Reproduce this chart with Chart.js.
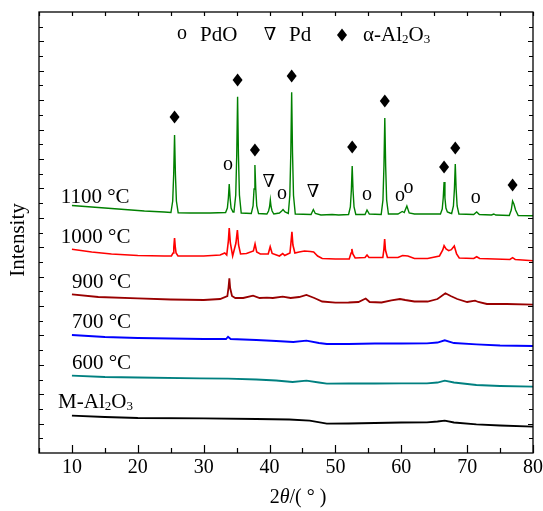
<!DOCTYPE html>
<html>
<head>
<meta charset="utf-8">
<script src="https://cdn.jsdelivr.net/npm/chart.js@4/dist/chart.umd.min.js"></script>
<style>
  html, body { margin: 0; padding: 0; background: #fff; }
  canvas { display: block; }
</style>
</head>
<body>
<canvas id="xrd" width="543" height="511" style="width:543px;height:511px"></canvas>
<script>
// XRD patterns: 2θ (degrees) against intensity (a.u., stacked traces)
const xTickValues = [10, 20, 30, 40, 50, 60, 70, 80];
const xTickLabels = ['10', '20', '30', '40', '50', '60', '70', '80'];

const seriesNames = ['1100 °C', '1000 °C', '900 °C', '700 °C', '600 °C', 'M-Al2O3'];

const twoTheta1100 = [10,12,15,18,21,24,25.03,25.30,25.45,25.58,25.71,25.86,26.13,28,31,33.33,33.6,33.75,33.88,34.01,34.16,34.45,34.6,34.87,35.02,35.15,35.28,35.43,35.7,37.23,37.5,37.65,37.78,37.91,38.06,38.33,39.6,39.85,40.0,40.12,40.24,40.39,40.65,41.5,41.85,42.05,42.35,42.85,43.08,43.23,43.36,43.49,43.64,43.91,46.3,46.65,46.95,47.8,49.5,50.5,52.0,52.27,52.42,52.55,52.68,52.83,53.1,54.5,54.8,55.15,56.95,57.22,57.37,57.5,57.63,57.78,58.05,59.5,60.15,60.45,60.85,61.2,62,64,65.95,66.22,66.37,66.5,66.63,66.78,67.0,67.4,67.65,67.92,68.07,68.2,68.33,68.48,68.75,71.0,71.45,71.85,73.7,74.05,74.35,76.4,76.7,76.9,77.1,77.35,77.75,80];
const counts1100 = [247.5,246.5,245,243.5,242,241,240.5,252,279,318,279,252,240.3,240,240,240.5,245,255,269,255,245,241,241,258,298,356.3,298,258,240,239.5,247,264,288,264,247,239.5,239,242,246,253,246,242,239,240,242,243.5,241,239.5,257.5,300,360.7,300,257.5,239,238.5,243.5,239.5,238,238.5,238,238.5,246,262.5,287,262.5,246,238.5,238.5,243,239,238.5,253,287,335,287,253,239,239,241.5,240.5,247,240,239,239,239,244,255,271,255,245,241,240,239.5,247,264,289,264,247,239,238.5,241,238.5,238,239,238,237.5,243,252,249,243,237.5,237.3];

const twoTheta1000 = [10,13,16,20,24,25.1,25.35,25.47,25.58,25.69,25.81,26.1,28,30,32.5,33.2,33.5,33.75,33.88,34.05,34.4,34.9,35.12,35.3,35.6,36.5,37.55,37.8,38.05,38.6,39.8,40.1,40.4,41.5,42.0,42.3,43.1,43.25,43.4,43.55,43.85,44.5,45.3,46.2,46.7,47.3,48,50,52.1,52.38,52.5,52.65,53.0,54.5,54.8,55.1,57.2,57.35,57.48,57.6,57.9,59.5,60.2,61.0,62,64,65.8,66.3,66.5,66.8,67.2,67.6,68.05,68.4,68.8,71.0,71.45,71.9,76.5,76.9,77.3,80];
const counts1000 = [203.7,201,199,197.5,197,197,200,206,215,206,200,197,197,197,198,200,198,212,225,210,197,210,223,208,199,199.5,202,209,201,199,199,206.3,199.5,197,199.5,197.5,200,210,221.3,208,200,201,202,201.5,201,197,194.5,194,194,200,204,199,195,195.5,198,195.5,195.5,203,214,203,195.5,195.5,197.5,197,194.5,194.5,197,203,207.3,204,202.3,203.3,207,199,195,194.5,196.3,194.5,193.5,195.3,193.5,192.3];

const twoTheta900 = [10,14,20,25,30,32.5,33.6,33.78,33.9,34.02,34.3,34.8,36,37.5,38.5,39.6,40.5,42.0,43.2,44.5,45.6,46.8,48,50,52,53.5,54.6,55.2,57,58.5,59.8,60.6,62,64,65.5,66.7,67.5,68.5,70,71.2,71.7,73,76,80];
const counts900 = [158.7,156,154.7,153.5,153,154,157,166,174.7,165,157,155,155,157.3,155,155.3,155,156.3,155,156,158,155,151.5,150.3,150.5,151,154.5,151,150.5,152.7,154,153,151.5,151.5,154,159.7,157,154,151,152.3,151,149,149,148.3];

const twoTheta700 = [10,15,20,25,30,33.4,33.7,34.1,38,41,43.6,45.6,47.5,48.7,52,56,60,63.9,65.5,66.6,68,71.4,75,80];
const counts700 = [118,116,115,114.5,114,114,116.3,114,113,112,111,112.3,110,109,109,109.5,109.5,109.7,110.5,112.7,110,108.7,107.5,107];

const twoTheta600 = [10,15,20,29.4,33.7,38,41,43.5,45.6,47.5,48.7,52,56,60,63.9,65.5,66.6,68,71.4,75,80];
const counts600 = [77.3,76,75.5,74.7,74.3,73.5,72.5,71,72.3,70.5,69.3,69.5,69.5,69.7,69.7,70.5,72.3,70.5,68,67,66.3];

const twoThetaSupport = [10,15,20,30,38,43,46.1,48.7,52,56,60,63.9,65.5,66.6,68,71.4,75,80];
const countsSupport = [37.3,36,35,34.7,34,33.5,32.3,29.3,29.5,30,30.5,30.7,31.5,32.3,30.5,28.7,27.5,26.3];

// phase identification marks (2θ, intensity where the symbol sits)
const alphaTheta = [25.58, 35.15, 37.78, 43.36, 52.55, 57.5, 66.5, 68.2, 76.9];
const alphaLevel = [336, 373, 303, 377, 306, 352, 286, 305, 268];
const pdoTheta = [33.7, 41.9, 54.8, 59.8, 61.1, 71.3];
const pdoLevel = [287, 258, 257, 256, 264, 254];
const pdTheta = [39.9, 46.6];
const pdLevel = [271, 261];

const seriesColors = ['#008000', '#ff0000', '#990000', '#0000ff', '#008080', '#000000'];
const seriesWidths = [1.4, 1.6, 1.8, 1.8, 1.8, 1.8];

const serif = '"Liberation Serif", "Times New Roman", serif';

const traces = [
  [twoTheta1100, counts1100],
  [twoTheta1000, counts1000],
  [twoTheta900, counts900],
  [twoTheta700, counts700],
  [twoTheta600, counts600],
  [twoThetaSupport, countsSupport]
];

const datasets = traces.map(([tx, ty], i) => ({
  label: seriesNames[i],
  data: tx.map((v, k) => ({ x: v, y: ty[k] })),
  borderColor: seriesColors[i],
  borderWidth: seriesWidths[i],
  pointRadius: 0,
  tension: 0,
  fill: false
}));

// text with subscript runs: parts = [[text, 'n'|'sub'|'it'], ...]
function richText(ctx, x, y, parts, size) {
  let cx = x;
  for (const [t, kind] of parts) {
    const s = kind === 'sub' ? Math.round(size * 0.62) : size;
    ctx.font = (kind === 'it' ? 'italic ' : '') + s + 'px ' + serif;
    ctx.fillText(t, cx, kind === 'sub' ? y + size * 0.22 : y);
    cx += ctx.measureText(t).width;
  }
  return cx;
}

function diamond(ctx, cx, cy) {
  ctx.beginPath();
  ctx.moveTo(cx, cy - 6.5);
  ctx.lineTo(cx + 5, cy);
  ctx.lineTo(cx, cy + 6.5);
  ctx.lineTo(cx - 5, cy);
  ctx.closePath();
  ctx.fill();
}

const decorations = {
  id: 'decorations',
  afterDatasetsDraw(chart) {
    const { ctx, chartArea: a, scales: { x, y } } = chart;
    ctx.save();
    ctx.fillStyle = '#000';
    ctx.strokeStyle = '#000';

    // frame
    ctx.lineWidth = 1.3;
    ctx.strokeRect(a.left, a.top, a.right - a.left, a.bottom - a.top);

    // inward ticks on the 2θ axes (bottom and mirrored top)
    ctx.lineWidth = 1.2;
    for (let v = x.min; v <= x.max + 1e-6; v += 5) {
      const px = Math.round(x.getPixelForValue(v)) + 0.5;
      const major = xTickValues.includes(v);
      ctx.beginPath();
      ctx.moveTo(px, a.bottom);
      ctx.lineTo(px, a.bottom - (major ? 8 : 5));
      ctx.moveTo(px, a.top);
      ctx.lineTo(px, a.top + 4);
      ctx.stroke();
    }
    // inward ticks on the intensity axes
    const yStep = (y.max - y.min) / 30;
    for (let i = 1; i < 30; i++) {
      const py = Math.round(y.getPixelForValue(y.min + i * yStep)) + 0.5;
      const len = i % 2 === 0 ? 5 : 4;
      ctx.beginPath();
      ctx.moveTo(a.left, py);
      ctx.lineTo(a.left + len, py);
      ctx.moveTo(a.right, py);
      ctx.lineTo(a.right - len, py);
      ctx.stroke();
    }

    // tick labels
    ctx.font = '20px ' + serif;
    ctx.textAlign = 'center';
    ctx.textBaseline = 'middle';
    xTickValues.forEach((v, i) => {
      ctx.fillText(xTickLabels[i], x.getPixelForValue(v), a.bottom + 15);
    });

    // axis titles
    ctx.textAlign = 'left';
    const tParts = [['2', 'n'], ['θ', 'it'], ['/( ° )', 'n']];
    let tw = 0;
    for (const [t, k] of tParts) {
      ctx.font = (k === 'it' ? 'italic ' : '') + '20px ' + serif;
      tw += ctx.measureText(t).width;
    }
    richText(ctx, 298 - tw / 2, a.bottom + 45, tParts, 20);

    ctx.save();
    ctx.translate(18, 240);
    ctx.rotate(-Math.PI / 2);
    ctx.textAlign = 'center';
    ctx.font = '21px ' + serif;
    ctx.fillText('Intensity', 0, 0);
    ctx.restore();

    // trace labels
    ctx.textAlign = 'left';
    ctx.textBaseline = 'middle';
    const labelPos = [[8.3, 256], [8.3, 216], [10.0, 171], [10.0, 131], [10.0, 90], [7.9, 51]];
    seriesNames.forEach((name, i) => {
      const lx = x.getPixelForValue(labelPos[i][0]);
      const ly = y.getPixelForValue(labelPos[i][1]);
      if (name === 'M-Al2O3') {
        richText(ctx, lx, ly, [['M-Al', 'n'], ['2', 'sub'], ['O', 'n'], ['3', 'sub']], 21);
      } else {
        ctx.font = '21px ' + serif;
        ctx.fillText(name, lx, ly);
      }
    });

    // phase symbols over the peaks
    alphaTheta.forEach((t, i) => diamond(ctx, x.getPixelForValue(t), y.getPixelForValue(alphaLevel[i])));
    ctx.textAlign = 'center';
    ctx.font = '20px ' + serif;
    pdoTheta.forEach((t, i) => ctx.fillText('o', x.getPixelForValue(t), y.getPixelForValue(pdoLevel[i]) - 1));
    ctx.font = '18px "DejaVu Serif", ' + serif;
    pdTheta.forEach((t, i) => ctx.fillText('∇', x.getPixelForValue(t), y.getPixelForValue(pdLevel[i])));

    // symbol key
    const ky = 35;
    ctx.font = '20px ' + serif;
    ctx.fillText('o', 182, ky - 1);
    ctx.font = '18px "DejaVu Serif", ' + serif;
    ctx.fillText('∇', 270, ky);
    diamond(ctx, 342, ky);
    ctx.textAlign = 'left';
    ctx.font = '21px ' + serif;
    ctx.fillText('PdO', 200, ky);
    ctx.fillText('Pd', 289, ky);
    richText(ctx, 363, ky, [['α-Al', 'n'], ['2', 'sub'], ['O', 'n'], ['3', 'sub']], 21);

    ctx.restore();
  }
};

new Chart(document.getElementById('xrd'), {
  type: 'line',
  data: { datasets },
  options: {
    responsive: false,
    devicePixelRatio: 1,
    animation: false,
    layout: { padding: { left: 39, top: 12, right: 10, bottom: 58 } },
    plugins: { legend: { display: false }, tooltip: { enabled: false } },
    scales: {
      x: { type: 'linear', min: 5, max: 80, display: false },
      y: { type: 'linear', min: 0, max: 441, display: false }
    }
  },
  plugins: [decorations]
});
</script>
</body>
</html>
